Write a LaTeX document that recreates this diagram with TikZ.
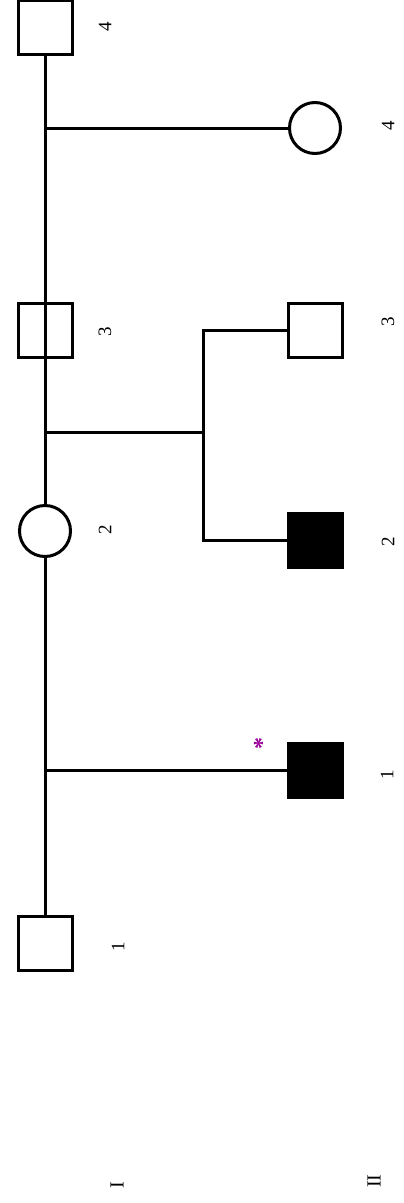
\documentclass[tikz,border=0pt]{standalone}
\usepackage{fontspec}
\setmainfont{Liberation Serif}
\begin{document}
\begin{tikzpicture}[x=1pt,y=-1pt,
  line width=3pt,
  male/.style={draw,rectangle,minimum size=54pt,inner sep=0pt},
  female/.style={draw,circle,minimum size=51pt,inner sep=0pt},
  aff/.style={fill=black},
  lbl/.style={rotate=90,font=\fontsize{19}{19}\selectfont,inner sep=0pt},
  gen/.style={rotate=90,font=\fontsize{20}{20}\selectfont,inner sep=0pt}]
\useasboundingbox[fill=white] (0,0) rectangle (404,1203);
% Generation I
\node[male] (I4) at (45,27) {};
\node[male] (I3) at (45,330) {};
\node[female] (I2) at (45,531) {};
\node[male] (I1) at (45,943) {};
% Generation II
\node[female] (II4) at (315,128) {};
\node[male] (II3) at (315,330) {};
\node[male,aff] (II2) at (315,540) {};
\node[male,aff] (II1) at (315,770) {};
% marriage lines
\draw (I4.south) -- (I2.north);
\draw (I2.south) -- (I1.north);
\coordinate (m34) at (45,128);
\coordinate (m23) at (45,432);
\coordinate (m12) at (45,770);
\coordinate (sb) at (203,432);
\coordinate (sbt) at (203,330);
\coordinate (sbb) at (203,540);
\draw (m34) -- (II4.west);
\draw (m23) -- (sb);
\draw[line join=miter] (II3.west) -- (sbt) -- (sbb) -- (II2.west);
\draw (m12) -- (II1.west);
% labels
\node[lbl] (l I4) at (105,27) {4};
\node[lbl] (l I3) at (105,332) {3};
\node[lbl] (l I2) at (105,530) {2};
\node[lbl] (l I1) at (118,947) {1};
\node[lbl] (l II4) at (388,126) {4};
\node[lbl] (l II3) at (388,322) {3};
\node[lbl] (l II2) at (388,542) {2};
\node[lbl] (l II1) at (387,775) {1};
\node[gen] (gI) at (117,1185) {I};
\node[gen] (gII) at (374,1181) {II};
% proband mark
\node[rotate=90,text=violet!80!magenta,font=\fontsize{24}{24}\selectfont\bfseries,inner sep=0pt] (star) at (262,743) {*};
\end{tikzpicture}
\end{document}
